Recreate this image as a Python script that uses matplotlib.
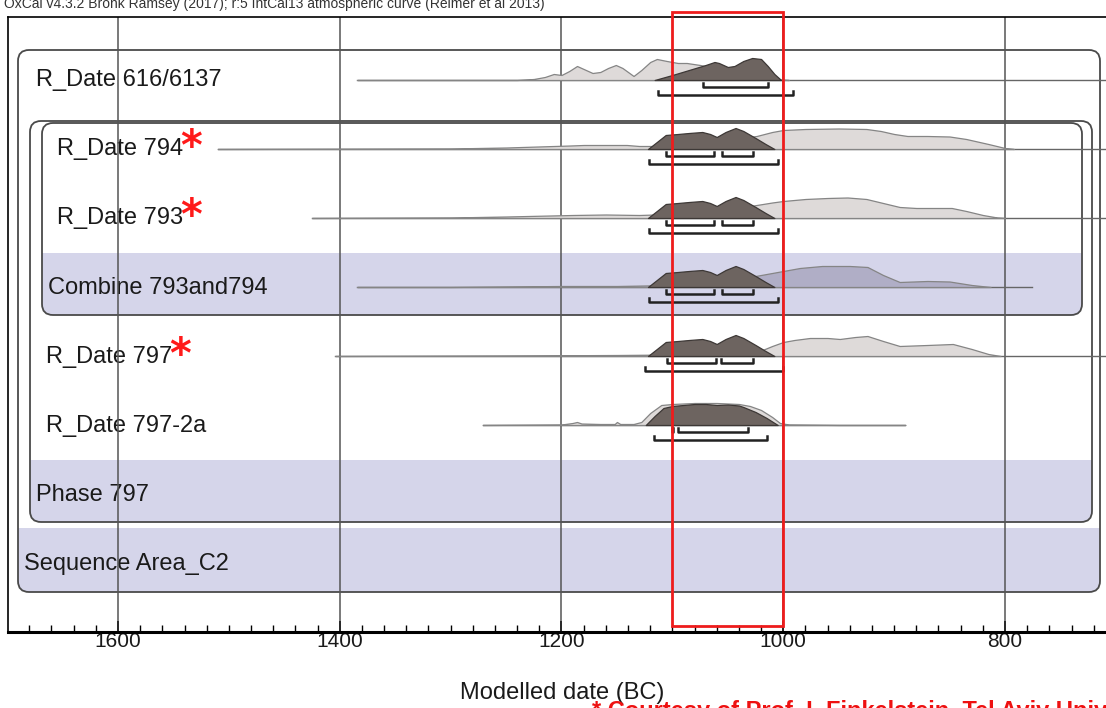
import matplotlib.pyplot as plt
from matplotlib.patches import FancyBboxPatch, Rectangle
from matplotlib.ticker import MultipleLocator

plt.rcParams['font.family'] = ['Liberation Sans', 'DejaVu Sans']

# row names, top to bottom
labels = ["R_Date 616/6137", "R_Date 794", "R_Date 793", "Combine 793and794",
          "R_Date 797", "R_Date 797-2a", "Phase 797", "Sequence Area_C2"]
starred = ["R_Date 794", "R_Date 793", "R_Date 797"]

# unmodelled likelihoods (light) - years BC and relative probability
lik_616_yr = [1384, 1240, 1225, 1215, 1207, 1200, 1193, 1186, 1178, 1172, 1165, 1158, 1151, 1145,
              1135, 1128, 1120, 1114, 1105, 1095, 1087, 1075, 1062, 1050, 1040, 1025, 1010, 995]
lik_616_p = [0, 0, 1, 3, 6, 5, 9, 14, 10, 7, 8, 12, 15, 12,
             4, 10, 18, 21, 19, 17, 17, 15, 12, 8, 5, 3, 1, 0]
lik_794_yr = [1510, 1300, 1250, 1192, 1180, 1160, 1141, 1130, 1115, 1100, 1080, 1060, 1045, 1024,
              1010, 1000, 980, 950, 925, 912, 900, 888, 870, 850, 835, 815, 800, 792]
lik_794_p = [0, 0.5, 1.5, 3.5, 4, 4, 4, 3, 3, 5, 6, 8, 10, 13,
             17, 19, 20, 20.5, 20, 18, 15, 13, 13, 12.5, 10, 5, 1, 0]
lik_793_yr = [1425, 1300, 1250, 1190, 1160, 1130, 1100, 1080, 1060, 1040, 1024, 1010, 1000,
              980, 960, 942, 925, 910, 895, 880, 860, 848, 835, 820, 807, 800]
lik_793_p = [0, 0.5, 1.5, 3, 3.5, 3, 4, 5, 7, 10, 13, 15.5, 17,
             19, 20, 20.5, 19, 15, 11, 10, 10, 10, 7, 3, 0.5, 0]
lik_comb_yr = [1384, 1300, 1200, 1150, 1100, 1070, 1048, 1030, 1015, 1000, 985, 965, 940,
               924, 910, 895, 870, 850, 830, 813]
lik_comb_p = [0, 0, 1, 1, 2, 4, 7, 10, 13, 16, 19, 21, 21,
              20, 12, 5, 6, 5.5, 2, 0]
lik_797_yr = [1404, 1250, 1150, 1100, 1060, 1040, 1021, 1010, 1000, 990, 976, 960, 949, 935,
              924, 910, 895, 870, 847, 830, 815, 804]
lik_797_p = [0, 0.5, 1, 1.5, 2, 3, 5, 10, 14, 16, 18, 18, 17, 19,
             20, 15, 10, 11, 12, 7, 2, 0]
lik_7972a_yr = [1271, 1200, 1190, 1186, 1182, 1165, 1152, 1150, 1147, 1135, 1128, 1120, 1110,
                1100, 1080, 1060, 1040, 1030, 1020, 1010, 1003, 995, 950, 890]
lik_7972a_p = [0, 0.5, 2, 3, 1.5, 1, 1, 3, 1, 1, 3, 12, 20,
               21, 22, 22, 21, 19, 15, 8, 2, 0.5, 0, 0]

# modelled posteriors (dark)
post_616_yr = [1116, 1100, 1085, 1070, 1062, 1058, 1050, 1044, 1036, 1028, 1020, 1014, 1008, 1002]
post_616_p = [0, 5, 10, 15, 18, 17, 13, 14, 19, 22, 21, 14, 6, 0]
post_794_yr = [1122, 1114, 1106, 1095, 1085, 1073, 1066, 1060, 1052, 1043, 1036, 1025, 1016, 1008]
post_794_p = [0, 7, 14, 15, 16, 17, 15, 12, 17, 21, 18, 11, 5, 0]
post_7972a_yr = [1124, 1116, 1108, 1100, 1090, 1080, 1070, 1060, 1050, 1040, 1036, 1025, 1015, 1005]
post_7972a_p = [0, 9, 17, 19, 20, 21, 21, 20, 20.5, 19.5, 18, 13, 7, 0]

# extent of the thin baseline of each likelihood
line_from = [1384, 1510, 1425, 1384, 1404, 1271]
line_to = [700, 700, 700, 776, 700, 890]

# 68.2% (upper) and 95.4% (lower) ranges
hpd68 = [[(1072, 1014)],
         [(1106, 1062), (1055, 1027)],
         [(1106, 1062), (1055, 1027)],
         [(1106, 1062), (1055, 1027)],
         [(1105, 1061), (1056, 1027)],
         [(1100.5, 1099.5), (1095, 1032)]]
hpd95 = [[(1113, 991)], [(1121, 1005)], [(1121, 1005)], [(1121, 1005)],
         [(1125, 1000)], [(1117, 1015)]]

liks = [(lik_616_yr, lik_616_p), (lik_794_yr, lik_794_p), (lik_793_yr, lik_793_p),
        (lik_comb_yr, lik_comb_p), (lik_797_yr, lik_797_p), (lik_7972a_yr, lik_7972a_p)]
posts = [(post_616_yr, post_616_p), (post_794_yr, post_794_p), (post_794_yr, post_794_p),
         (post_794_yr, post_794_p), (post_794_yr, post_794_p), (post_7972a_yr, post_7972a_p)]

W, H = 1106, 708
lav = '#d5d5ea'
fig = plt.figure(figsize=(W / 100, H / 100), dpi=100)

# layout layer in pixel coordinates
bg = fig.add_axes([0, 0, 1, 1])
bg.set_xlim(0, W)
bg.set_ylim(H, 0)
bg.axis('off')


def rbox(x0, y0, x1, y1):
    p = FancyBboxPatch((x0, y0), x1 - x0, y1 - y0, boxstyle="round,pad=0,rounding_size=11",
                       fc='none', ec='#4a4a4a', lw=1.3, zorder=3)
    bg.add_patch(p)
    return p


seq_box = rbox(18, 50, 1100, 592)
phase_box = rbox(30, 121, 1092, 522)
comb_box = rbox(42, 123, 1082, 315)

for (x0, y0, x1, y1), clip in [((42, 253, 1082, 316), comb_box),
                               ((30, 460, 1092, 523), phase_box),
                               ((18, 528, 1100, 593), seq_box)]:
    r = Rectangle((x0, y0), x1 - x0, y1 - y0, fc=lav, ec='none', zorder=1)
    bg.add_patch(r)
    r.set_clip_path(clip)

label_x = [36, 57, 57, 48, 46, 46, 36, 24]
for k, name in enumerate(labels):
    base = 86 + 69.2 * k
    bg.text(label_x[k], base, name, fontsize=17, color='#1a1a1a', va='baseline', zorder=4)
    if name in starred:
        bg.text(label_x[k] + 123, base + 5, '*', fontsize=30, weight='bold',
                color='#ff1a1a', family='DejaVu Sans', va='baseline', zorder=4)

bg.text(4, 4, "OxCal v4.3.2 Bronk Ramsey (2017); r:5 IntCal13 atmospheric curve (Reimer et al 2013)",
        fontsize=10, color='#333333', va='center')
bg.text(562, 693, "Modelled date (BC)", fontsize=17, color='#1a1a1a', ha='center', va='center')
bg.text(592, 700, "* Courtesy of Prof. I. Finkelstein, Tel Aviv University", fontsize=17,
        color='#ee1111', weight='bold', va='top')

# data layer: years BC on an inverted axis
ax = fig.add_axes([8 / W, (H - 632) / H, (W - 8) / W, (632 - 17) / H])
ax.set_facecolor('none')
ax.set_xlim(1699.2, 708.9)
ax.set_ylim(632, 17)
ax.set_yticks([])
ax.xaxis.set_major_locator(MultipleLocator(200))
ax.xaxis.set_minor_locator(MultipleLocator(20))
ax.tick_params(axis='x', which='major', direction='in', length=8, width=1.2,
               labelsize=15, pad=0, colors='#1a1a1a')
ax.tick_params(axis='x', which='minor', direction='in', length=5, width=1)
ax.spines['right'].set_visible(False)
ax.spines['bottom'].set_linewidth(2.2)
ax.spines['left'].set_linewidth(1.2)
ax.spines['top'].set_linewidth(1.2)

for yr in [1600, 1400, 1200, 1000, 800]:
    ax.axvline(yr, color='#555555', lw=1.1, zorder=0.5)

for k in range(6):
    base = 80 + 69 * k
    ax.plot([line_from[k], line_to[k]], [base, base], color='#666666', lw=1, zorder=1)
    lx, lp = liks[k]
    lc = '#b0aec6' if k == 3 else '#dedad9'
    ax.fill_between(lx, base, [base - v for v in lp], fc=lc, ec='#858585', lw=0.9, zorder=2)
    px, pp = posts[k]
    ax.fill_between(px, base, [base - v for v in pp], fc='#6d6460', ec='#3d3836', lw=0.9, zorder=3)
    for a, b in hpd68[k]:
        ax.plot([a, a, b, b], [base + 3, base + 7, base + 7, base + 3], color='#222222', lw=1.8, zorder=4)
    for a, b in hpd95[k]:
        ax.plot([a, a, b, b], [base + 11, base + 15, base + 15, base + 11], color='#222222', lw=1.8, zorder=4)

ax.add_patch(Rectangle((1000, 12), 100, 614, fc='none', ec='#ee1c1c', lw=2, zorder=6, clip_on=False))

fig.savefig('out.png', dpi=100)
